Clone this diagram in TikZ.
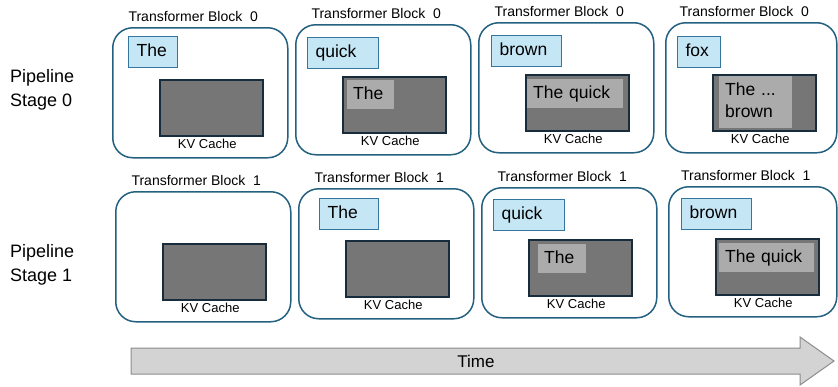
\documentclass[tikz,border=0pt]{standalone}
\usepackage{fontspec}
\setmainfont{Liberation Sans}
\usepackage{tikz}
\usetikzlibrary{positioning,calc}

\definecolor{blockblue}{RGB}{36,96,128}
\definecolor{tokenfill}{RGB}{197,230,245}
\definecolor{tokenline}{RGB}{52,118,158}
\definecolor{cachefill}{RGB}{118,118,118}
\definecolor{cacheline}{RGB}{24,44,60}
\definecolor{entryfill}{RGB}{171,171,171}
\definecolor{timefill}{RGB}{211,211,211}
\definecolor{timeline}{RGB}{140,140,140}

\tikzset{
  kv schemes/.style = {
    x = 1pt, y = -1pt,
    node distance = 0pt,
  },
  % Frame of a transformer block
  blockbox/.style  = {draw=blockblue, line width=1.5pt, rounded corners=20pt,
    minimum width=#1, minimum height=130pt, anchor=north west, inner sep=0pt},
  blockbox/.default = 175pt,
  blocktitle/.style = {anchor=base, inner sep=0pt, font=\fontsize{14}{17}\selectfont},
  % Token being processed
  tokbox/.style    = {draw=tokenline, fill=tokenfill, line width=1.2pt,
    minimum height=31pt, inner xsep=8pt, inner ysep=0pt,
    text height=13pt, text depth=4pt, text width=#1, align=left,
    font=\fontsize{17.5}{22}\selectfont},
  % KV cache and its entries
  kvbox/.style     = {draw=cacheline, fill=cachefill, line width=1.5pt,
    minimum width=103pt, minimum height=56pt, inner sep=0pt},
  kvlabel/.style   = {anchor=base, inner sep=0pt, font=\fontsize{13}{16}\selectfont},
  entrybox/.style  = {fill=entryfill, minimum height=29pt, inner xsep=6pt, inner ysep=0pt,
    text height=13pt, text depth=4pt, text width=#1, align=left,
    font=\fontsize{17.5}{22}\selectfont},
  stagelabel/.style = {anchor=west, inner sep=0pt, align=left,
    font=\fontsize{18}{24}\selectfont},
  timearrow/.style = {draw=timeline, fill=timefill, line width=1pt},
}

\begin{document}
\begin{tikzpicture}[kv schemes]
\useasboundingbox (0,0) rectangle (838,386);

% blocks, titles and caches
\foreach \blk/\bx/\by/\bw/\stg in {a0/112/27/175/0, b0/295/24/175/0, c0/478/22/175/0, d0/665/22/171/0,
                                   a1/115/191/175/1, b1/298/188/175/1, c1/481/187/175/1, d1/668/186/168/1}
{
  \node[blockbox=\bw pt] (\blk) at (\bx,\by) {};
  \node[blocktitle] (\blk-title) at ([shift={(-7,-6)}]\blk.north) {Transformer Block\ \ \stg};
  \node[kvbox, below right=52pt and 47pt of \blk.north west] (\blk-kv) {};
  \node[kvlabel] (\blk-lbl) at ([shift={(-4,12)}]\blk-kv.south) {KV Cache};
}

% stage 0
\node[tokbox=33pt, below right=9pt and 16pt of a0.north west]  (a0-tok) {The};
\node[tokbox=55pt, below right=13pt and 12pt of b0.north west] (b0-tok) {quick};
\node[tokbox=54pt, below right=13pt and 13pt of c0.north west] (c0-tok) {brown};
\node[tokbox=27pt, below right=14pt and 12pt of d0.north west] (d0-tok) {fox};

\node[entrybox=35pt, below right=4pt and 5pt of b0-kv.north west] (b0-kv-1) {The};
\node[entrybox=84pt, below right=5pt and 2pt of c0-kv.north west] (c0-kv-1) {The quick};
\node[entrybox=61pt, minimum height=52pt, text depth=26pt,
      below right=2pt and 7pt of d0-kv.north west] (d0-kv-1) {The ...\\brown};

% stage 1
\node[tokbox=43pt, below right=10pt and 21pt of b1.north west] (b1-tok) {The};
\node[tokbox=55pt, below right=12pt and 12pt of c1.north west] (c1-tok) {quick};
\node[tokbox=54pt, below right=12pt and 13pt of d1.north west] (d1-tok) {brown};

\node[entrybox=36pt, below right=5pt and 10pt of c1-kv.north west] (c1-kv-1) {The};
\node[entrybox=83pt, below right=5pt and 4pt of d1-kv.north west]  (d1-kv-1) {The quick};

% stage names
\node[stagelabel] (stage0) at (10,90)  {Pipeline\\Stage 0};
\node[stagelabel] (stage1) at (10,265) {Pipeline\\Stage 1};

% time axis
\draw[timearrow] (131,348) -- (800,348) -- (800,337) -- (834,361)
  -- (800,385) -- (800,374) -- (131,374) -- cycle;
\node[font=\fontsize{17}{20}\selectfont] (time) at (476,361) {Time};

\end{tikzpicture}
\end{document}
